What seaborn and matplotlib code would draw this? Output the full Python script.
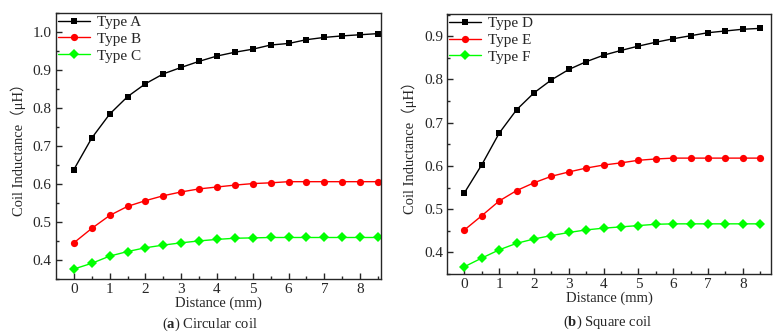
import numpy as np
import pandas as pd
import matplotlib
matplotlib.use('Agg')
import matplotlib.pyplot as plt
import seaborn as sns

# Dados
distance = [0, 0.5, 1, 1.5, 2, 2.5, 3, 3.5, 4, 4.5, 5, 5.5, 6, 6.5, 7, 7.5, 8, 8.5]

type_a = [0.638, 0.721, 0.784, 0.830, 0.864, 0.890, 0.907, 0.923, 0.937, 0.947,
          0.955, 0.966, 0.970, 0.980, 0.986, 0.990, 0.993, 0.996]
type_b = [0.445, 0.483, 0.517, 0.541, 0.556, 0.569, 0.579, 0.587, 0.592, 0.597,
          0.601, 0.603, 0.606, 0.606, 0.606, 0.606, 0.606, 0.606]
type_c = [0.376, 0.391, 0.410, 0.422, 0.432, 0.439, 0.445, 0.450, 0.454, 0.457,
          0.458, 0.459, 0.459, 0.459, 0.459, 0.459, 0.459, 0.459]

type_d = [0.538, 0.603, 0.676, 0.730, 0.769, 0.799, 0.823, 0.841, 0.856, 0.867,
          0.877, 0.886, 0.894, 0.901, 0.908, 0.912, 0.916, 0.918]
type_e = [0.452, 0.485, 0.519, 0.543, 0.561, 0.576, 0.586, 0.595, 0.602, 0.607,
          0.613, 0.616, 0.618, 0.618, 0.618, 0.618, 0.618, 0.618]
type_f = [0.367, 0.387, 0.406, 0.421, 0.431, 0.439, 0.446, 0.452, 0.456, 0.459,
          0.462, 0.465, 0.466, 0.466, 0.466, 0.466, 0.466, 0.466]

labels_left = ['Type A', 'Type B', 'Type C']
labels_right = ['Type D', 'Type E', 'Type F']
colors = ['#000000', '#ff0000', '#00ff00']
markers = ['s', 'o', 'D']
sizes = [5, 5.2, 4.6]

sns.set_style('ticks')
plt.rcParams['font.family'] = ['Liberation Serif', 'Noto Sans CJK SC']
plt.rcParams['mathtext.fontset'] = 'custom'
plt.rcParams['mathtext.rm'] = 'Liberation Serif'
plt.rcParams['mathtext.bf'] = 'Liberation Serif:bold'

fig = plt.figure(figsize=(7.83, 3.36), dpi=100)
ax1 = fig.add_axes([0.0715, 0.170, 0.415, 0.791])
ax2 = fig.add_axes([0.571, 0.1845, 0.414, 0.7735])


def desenhar(ax, series, labels, ylim, yticks, xlim):
    for y, lab, c, m, s in zip(series, labels, colors, markers, sizes):
        df = pd.DataFrame({'x': distance, 'y': y})
        sns.lineplot(data=df, x='x', y='y', ax=ax, color=c, marker=m,
                     markersize=s, markeredgewidth=0, linewidth=1, label=lab)
    ax.set_xlim(*xlim)
    ax.set_ylim(*ylim)
    ax.set_xticks(range(0, 9))
    ax.set_xticks(np.arange(0.5, 8.6, 1), minor=True)
    ax.set_yticks(yticks)
    ax.set_yticks(np.arange(yticks[0] - 0.05, yticks[-1] + 0.06, 0.1), minor=True)
    ax.set_yticklabels([f'{v:.1f}' for v in yticks])
    ax.tick_params(which='both', direction='in', labelsize=11, width=1)
    ax.tick_params(which='major', length=4)
    ax.tick_params(which='minor', length=2.5)
    ax.tick_params(axis='x', pad=3)
    ax.tick_params(axis='y', pad=3)
    ax.set_xlabel('Distance (mm)', fontsize=10.5, labelpad=0.5)
    ax.set_ylabel('Coil Inductance（μH）', fontsize=10.5, labelpad=5)
    for sp in ax.spines.values():
        sp.set_linewidth(1)
    ax.legend(loc='upper left', frameon=False, fontsize=11, handlelength=2.1,
              borderaxespad=0.1, labelspacing=0.2, handletextpad=0.45,
              borderpad=0.05)


desenhar(ax1, [type_a, type_b, type_c], labels_left, (0.352, 1.049),
         [0.4, 0.5, 0.6, 0.7, 0.8, 0.9, 1.0], (-0.5, 8.58))
desenhar(ax2, [type_d, type_e, type_f], labels_right, (0.350, 0.951),
         [0.4, 0.5, 0.6, 0.7, 0.8, 0.9], (-0.5, 8.82))

fig.text(0.268, 0.036, r'($\mathbf{a}$) Circular coil', ha='center', va='center', fontsize=10.5)
fig.text(0.776, 0.040, r'($\mathbf{b}$) Square coil', ha='center', va='center', fontsize=10.5)

fig.savefig('out.png', dpi=100)
